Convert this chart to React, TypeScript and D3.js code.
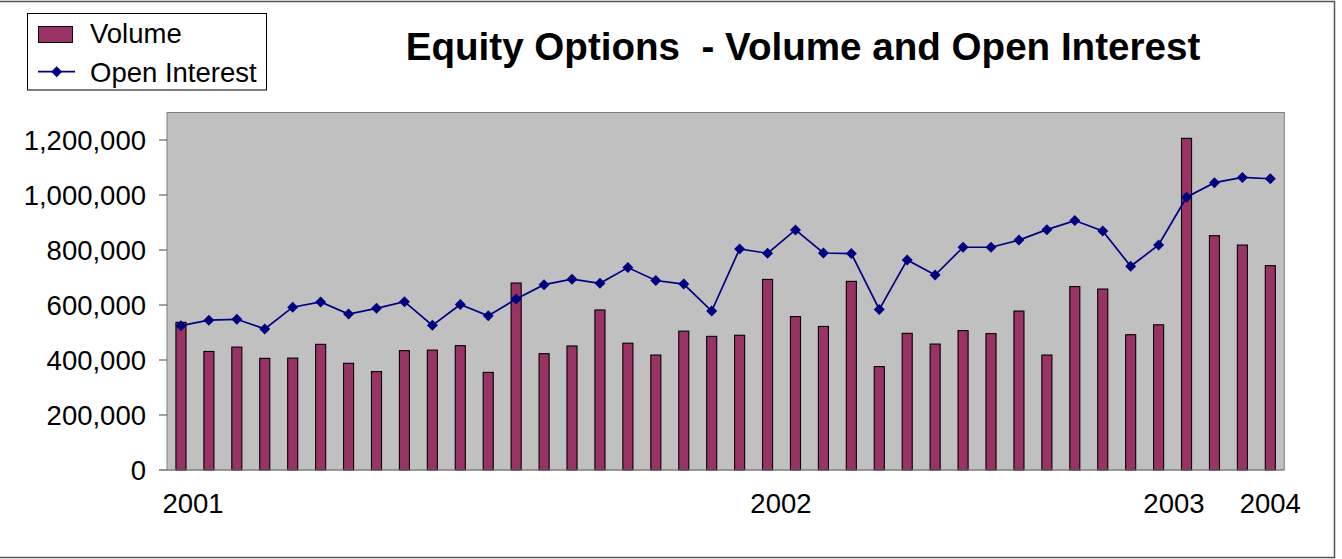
import React from "react";
import * as d3 from "d3";

const volume = [
  537000, 431000, 447000, 406000, 407000, 457000, 388000, 358000, 434000, 436000,
  452000, 355000, 680000, 423000, 451000, 582000, 461000, 418000, 505000, 486000,
  490000, 693000, 558000, 522000, 686000, 376000, 497000, 458000, 507000, 496000,
  578000, 418000, 667000, 658000, 492000, 528000, 1206000, 852000, 818000, 743000,
];

const openInterest = [
  525000, 545000, 548000, 513000, 592000, 611000, 567000, 588000, 612000, 526000,
  602000, 561000, 622000, 674000, 694000, 679000, 736000, 689000, 676000, 578000,
  804000, 788000, 873000, 789000, 787000, 584000, 764000, 709000, 810000, 810000,
  836000, 874000, 907000, 869000, 741000, 818000, 992000, 1045000, 1064000, 1059000,
];

const yearLabels = ["2001", "2002", "2003", "2004"];
const yearLabelCategory = [0.93, 21.98, 36.05, 39.5];
const yTicks = [0, 200000, 400000, 600000, 800000, 1000000, 1200000];

const W = 1342;
const H = 559;
const plotLeft = 167;
const plotRight = 1284.3;
const plotTop = 112.5;
const plotBottom = 470;

export default function App() {
  const n = volume.length;
  const x = d3.scaleLinear().domain([0, n]).range([plotLeft, plotRight]);
  const y = d3.scaleLinear().domain([0, 1300000]).range([plotBottom, plotTop]);
  const band = (plotRight - plotLeft) / n;
  const barW = band * 0.36;
  const fmt = d3.format(",");
  const line = d3
    .line<number>()
    .x((_, i) => x(i + 0.5))
    .y((d) => y(d));
  const diamond = (cx: number, cy: number, r: number) =>
    `M${cx},${cy - r}L${cx + r},${cy}L${cx},${cy + r}L${cx - r},${cy}Z`;
  const font = "Arial, 'Liberation Sans', sans-serif";

  return (
    <svg
      width={W}
      height={H}
      style={{ position: "absolute", left: 0, top: 0, display: "block" }}
      fontFamily={font}
    >
      <rect x={0} y={0} width={W} height={H} fill="#fff" />
      {/* outer frame */}
      <path d={`M0,1.5H1334.5V557.5H0`} fill="none" stroke="#555" strokeWidth={1.5} />

      {/* plot area */}
      <rect
        x={plotLeft}
        y={plotTop}
        width={plotRight - plotLeft}
        height={plotBottom - plotTop}
        fill="#C0C0C0"
        stroke="#808080"
        strokeWidth={1}
      />

      {/* y ticks */}
      {yTicks.map((t) => (
        <g key={t}>
          <line x1={159} x2={plotLeft} y1={y(t)} y2={y(t)} stroke="#444" strokeWidth={1} />
          <text
            x={146}
            y={y(t)}
            dy="0.36em"
            textAnchor="end"
            fontSize={27.5}
            fill="#000"
          >
            {fmt(t)}
          </text>
        </g>
      ))}

      {/* bars */}
      {volume.map((v, i) => (
        <rect
          key={i}
          x={x(i + 0.5) - barW / 2}
          y={y(v)}
          width={barW}
          height={plotBottom - y(v)}
          fill="#993366"
          stroke="#000"
          strokeWidth={1.1}
        />
      ))}

      {/* axis line */}
      <line x1={159} x2={plotRight} y1={plotBottom} y2={plotBottom} stroke="#808080" strokeWidth={1.2} />

      {/* open interest line */}
      <path d={line(openInterest) || ""} fill="none" stroke="#000080" strokeWidth={1.7} />
      {openInterest.map((v, i) => (
        <path key={i} d={diamond(x(i + 0.5), y(v), 5.5)} fill="#000080" />
      ))}

      {/* x labels */}
      {yearLabels.map((lab, i) => (
        <text
          key={lab}
          x={x(yearLabelCategory[i])}
          y={512.7}
          textAnchor="middle"
          fontSize={27.5}
          fill="#000"
        >
          {lab}
        </text>
      ))}

      {/* title */}
      <text
        x={803}
        y={60}
        textAnchor="middle"
        fontSize={38.6}
        fontWeight="bold"
        fill="#000"
        style={{ whiteSpace: "pre" }}
      >
        {"Equity Options  - Volume and Open Interest"}
      </text>

      {/* legend */}
      <rect x={27.5} y={13.5} width={239} height={76.5} fill="#fff" stroke="#000" strokeWidth={1} />
      <rect x={38.5} y={26.5} width={34} height={16} fill="#993366" stroke="#000" strokeWidth={1} />
      <text x={90} y={43.3} fontSize={27.5} fill="#000">
        Volume
      </text>
      <line x1={38} x2={75} y1={71.7} y2={71.7} stroke="#000080" strokeWidth={1.7} />
      <path d={diamond(56.7, 71.7, 5.5)} fill="#000080" />
      <text x={90} y={82} fontSize={27.5} fill="#000">
        Open Interest
      </text>
    </svg>
  );
}
